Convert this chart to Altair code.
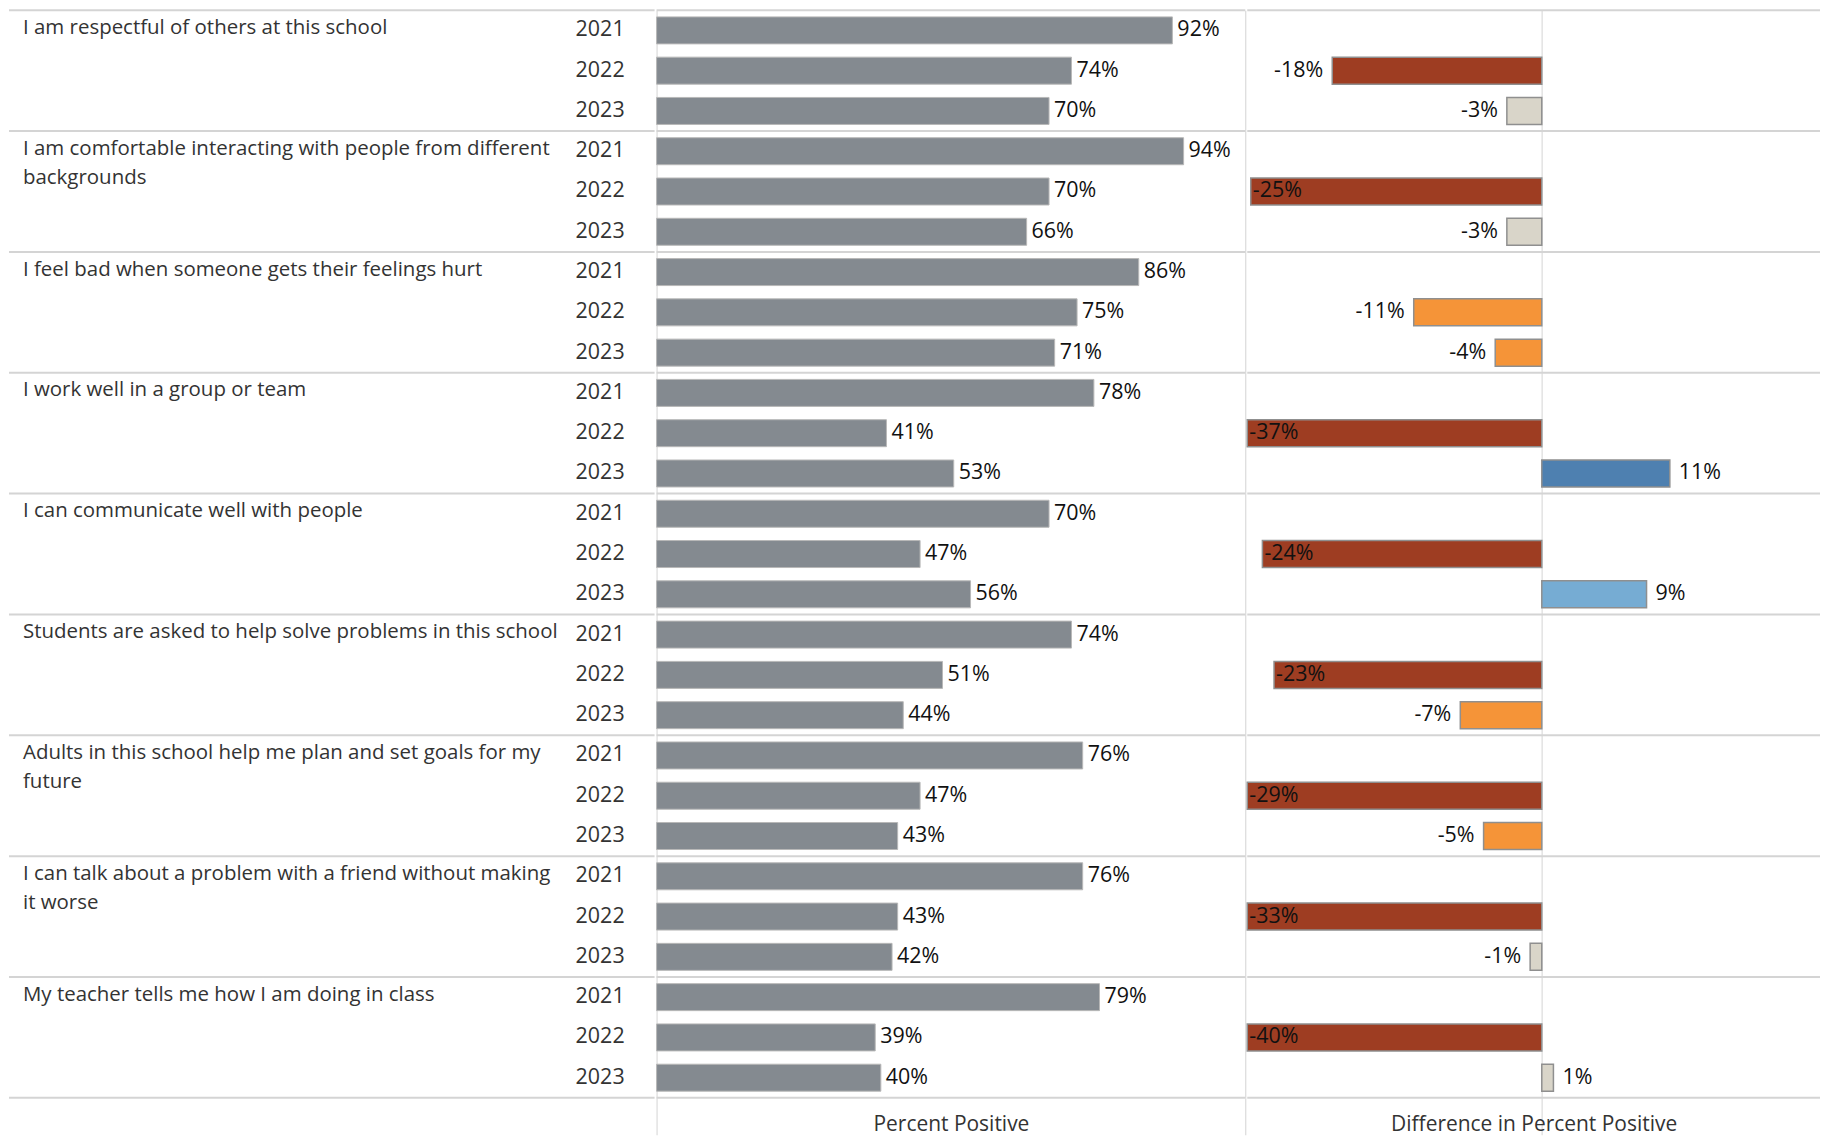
import altair as alt
import pandas as pd

questions = [
    "I am respectful of others at this school",
    "I am comfortable interacting with people from different\nbackgrounds",
    "I feel bad when someone gets their feelings hurt",
    "I work well in a group or team",
    "I can communicate well with people",
    "Students are asked to help solve problems in this school",
    "Adults in this school help me plan and set goals for my\nfuture",
    "I can talk about a problem with a friend without making\nit worse",
    "My teacher tells me how I am doing in class",
]
years = ["2021", "2022", "2023"]
pct_2021 = [92, 94, 86, 78, 70, 74, 76, 76, 79]
pct_2022 = [74, 70, 75, 41, 47, 51, 47, 43, 39]
pct_2023 = [70, 66, 71, 53, 56, 44, 43, 42, 40]
diff_2022 = [-18, -25, -11, -37, -24, -23, -29, -33, -40]
diff_2023 = [-3, -3, -4, 11, 9, -7, -5, -1, 1]

rows = []
for i, q in enumerate(questions):
    vals = [pct_2021[i], pct_2022[i], pct_2023[i]]
    diffs = [None, diff_2022[i], diff_2023[i]]
    for yr, p, d in zip(years, vals, diffs):
        rows.append(dict(key=f"{i:02d}-{yr}", question=q, year=yr, pct=p, diff=d,
                         first=(yr == "2021"), last=(i == len(questions) - 1 and yr == "2023")))
df = pd.DataFrame(rows)
keys = list(df["key"])

FONT = "Open Sans"
TXT = "#333333"
LINE = "#d4d4d4"
H = 1090
TICK = 37
BAND = 0.67
FS_Q = 20.5
FS_N = 21.5

yscale = alt.Scale(domain=keys, paddingInner=0, paddingOuter=0)


def Y(bp=None):
    if bp is None:
        return alt.Y("key:N", scale=yscale, axis=None, sort=None)
    return alt.Y("key:N", scale=yscale, axis=None, sort=None, bandPosition=bp)


base = alt.Chart(df)

sep_top = base.transform_filter("datum.first").mark_rule(color=LINE, strokeWidth=2).encode(y=Y(0))
sep_bot = base.transform_filter("datum.last").mark_rule(color=LINE, strokeWidth=2).encode(y=Y(1))

# Left text panel
q_text = base.transform_filter("datum.first").mark_text(
    align="left", baseline="top", dy=-12.5, lineBreak="\n", lineHeight=29,
    font=FONT, fontSize=FS_Q, color=TXT
).encode(y=Y(), x=alt.value(14), text="question:N")
yr_text = base.mark_text(
    align="right", baseline="middle", font=FONT, fontSize=FS_N, color=TXT
).encode(y=Y(), x=alt.value(617), text="year:N")
left = alt.layer(sep_top, sep_bot, q_text, yr_text).properties(width=647, height=H)

# Percent positive panel
xaxis_common = dict(labels=False, domain=False, ticks=True, tickSize=TICK, tickColor=LINE,
                    grid=True, gridColor=LINE, gridWidth=1, titleFont=FONT, titleFontSize=21,
                    titleFontWeight="normal", titleColor=TXT, titleY=33,
                    titleBaseline="alphabetic")
bars = base.mark_bar(color="#848a90", stroke="#b8b8b8", strokeWidth=1,
                     height={"band": BAND}).encode(
    y=Y(),
    x=alt.X("pct:Q", scale=alt.Scale(domain=[0, 105], nice=False, zero=True),
            axis=alt.Axis(values=[0, 105], title="Percent Positive", **xaxis_common)),
)
bar_lbl = base.transform_calculate(lbl="datum.pct + '%'").mark_text(
    align="left", baseline="middle", dx=5, font=FONT, fontSize=FS_N, color="#111111"
).encode(y=Y(), x="pct:Q", text="lbl:N")
mid = alt.layer(sep_top, sep_bot, bars, bar_lbl).properties(width=590, height=H)

# Difference panel
dscale = alt.Scale(domain=[-25.3, 23.9], nice=False, zero=False, clamp=True)
dbase = base.transform_filter("isValid(datum.diff)").transform_calculate(lbl="datum.diff + '%'")
dbars = dbase.mark_bar(stroke="#8f8f8f", strokeWidth=1.5, height={"band": BAND}).encode(
    y=Y(),
    x=alt.X("diff:Q", scale=dscale,
            axis=alt.Axis(values=[0], title="Difference in Percent Positive", **xaxis_common)),
    x2=alt.datum(0),
    color=alt.Color("diff:Q", legend=None, scale=alt.Scale(
        type="threshold", domain=[-15, -3.5, 3.5, 10],
        range=["#9e3d22", "#f59438", "#d9d5c9", "#76acd3", "#4e80b0"])),
)
lbl_in = dbase.transform_filter("datum.diff < -20").mark_text(
    align="left", baseline="middle", dx=2, font=FONT, fontSize=FS_N, color="#111111"
).encode(y=Y(), x=alt.X("diff:Q", scale=dscale), text="lbl:N")
lbl_neg = dbase.transform_filter("datum.diff >= -20 && datum.diff < 0").mark_text(
    align="right", baseline="middle", dx=-9, font=FONT, fontSize=FS_N, color="#111111"
).encode(y=Y(), x=alt.X("diff:Q", scale=dscale), text="lbl:N")
lbl_pos = dbase.transform_filter("datum.diff > 0").mark_text(
    align="left", baseline="middle", dx=9, font=FONT, fontSize=FS_N, color="#111111"
).encode(y=Y(), x=alt.X("diff:Q", scale=dscale), text="lbl:N")
right = alt.layer(sep_top, sep_bot, dbars, lbl_in, lbl_neg, lbl_pos).properties(width=574, height=H)

chart = alt.hconcat(left, mid, right, spacing=0).properties(padding=0).configure_view(
    stroke=None).configure_concat(spacing=0)

chart.save("out.html", embed_options={"renderer": "svg", "actions": False})
